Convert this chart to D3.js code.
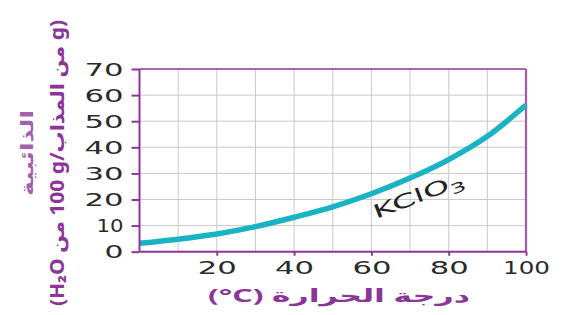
<!DOCTYPE html>
<html>
<head>
<meta charset="utf-8">
<script src="https://cdn.jsdelivr.net/npm/d3@7"></script>
<style>
  body { margin:0; background:#fff; }
</style>
</head>
<body>
  <div id="chart"></div>
  <script>
    // temperature (°C) and KClO3 solubility (g / 100 g H2O)
    var temps = [0, 10, 20, 30, 40, 50, 60, 70, 80, 90, 100];
    var solubility = [3.2, 4.8, 6.8, 9.6, 13.2, 17.2, 22.2, 28.2, 35.3, 44.2, 56.2];
    var xTicks = [20, 40, 60, 80, 100];
    var yTicks = [0, 10, 20, 30, 40, 50, 60, 70];
    var xLabel = "درجة الحرارة (\u200E°C)";
    var yTitle = "الذائبية";
    var yUnit = "(g من المذاب/g\u200F 100 من H₂O)";
    var seriesName = "KClO";

    var W = 566, H = 315;
    var margin = {top:69, right:40, bottom:64, left:139.5};
    var purple = "#8c3598", cyan = "#19b4c3";

    var svg = d3.select("#chart").append("svg")
      .attr("width", W).attr("height", H);

    var x = d3.scaleLinear().domain([0, 100]).range([margin.left, 526]);
    var y = d3.scaleLinear().domain([0, 70]).range([H - margin.bottom + 0.7, margin.top]);

    // digit widths of the wide typeface in the picture
    function lenOf(s) { return d3.sum(s.split(""), function(c){ return c == "1" ? 8 : 20; }) - 1; }

    // grid
    var g = svg.append("g");
    g.selectAll(".vg").data(d3.range(10, 100, 10)).enter().append("line")
      .attr("x1", d => x(d)).attr("x2", d => x(d))
      .attr("y1", y(0)).attr("y2", y(70))
      .attr("stroke", "#c9c9c9").attr("stroke-width", 1);
    g.selectAll(".hg").data(d3.range(10, 70, 10)).enter().append("line")
      .attr("x1", x(0)).attr("x2", x(100))
      .attr("y1", d => y(d)).attr("y2", d => y(d))
      .attr("stroke", "#c9c9c9").attr("stroke-width", 1);

    // frame
    svg.append("line").attr("x1", x(0)).attr("x2", x(100)).attr("y1", y(70)).attr("y2", y(70))
      .attr("stroke", purple).attr("stroke-width", 1.6);
    svg.append("line").attr("x1", x(100)).attr("x2", x(100)).attr("y1", y(70)).attr("y2", y(0))
      .attr("stroke", "#a35aad").attr("stroke-width", 2.2);

    // curve
    var line = d3.line().x((d, i) => x(temps[i])).y(d => y(d)).curve(d3.curveMonotoneX);
    svg.append("path").datum(solubility)
      .attr("d", line)
      .attr("fill", "none").attr("stroke", cyan).attr("stroke-width", 5.5)
      .attr("stroke-linecap", "butt");

    // axes
    var yAxis = svg.append("g").attr("transform", "translate(" + x(0) + ",0)")
      .call(d3.axisLeft(y).tickValues(yTicks).tickSize(8).tickPadding(8));
    var xAxis = svg.append("g").attr("transform", "translate(0," + y(0) + ")")
      .call(d3.axisBottom(x).tickValues(xTicks).tickSize(4).tickPadding(6));
    [xAxis, yAxis].forEach(function(a){
      a.select(".domain").attr("stroke", purple).attr("stroke-width", 2);
      a.selectAll(".tick line").attr("stroke", purple).attr("stroke-width", 2);
      a.selectAll(".tick text")
        .attr("fill", "#2a2a2a")
        .style("font-family", "'DejaVu Sans', sans-serif")
        .style("font-size", "17px")
        .attr("textLength", function(d){ return lenOf(String(d)); })
        .attr("lengthAdjust", "spacingAndGlyphs");
    });
    yAxis.select(".domain").attr("d", "M0," + y(0) + "V" + y(70));
    xAxis.select(".domain").attr("d", "M" + x(0) + ",0H" + x(100));
    yAxis.selectAll(".tick text").attr("x", -16).attr("dy", "0.36em");
    xAxis.selectAll(".tick text").attr("y", 10).attr("dy", "0.72em");

    // series label
    var sl = svg.append("text")
      .attr("transform", "translate(376,219) rotate(-21)")
      .attr("fill", "#222")
      .style("font-family", "'DejaVu Sans', sans-serif")
      .style("font-size", "19px")
      .attr("textLength", 96).attr("lengthAdjust", "spacingAndGlyphs")
      .text(seriesName);
    sl.append("tspan").attr("dy", 5).style("font-size", "14px").text("3");

    // x axis title
    svg.append("text")
      .attr("x", 339).attr("y", 302)
      .attr("text-anchor", "middle")
      .attr("direction", "rtl")
      .attr("fill", purple)
      .style("font-family", "'Noto Sans', 'DejaVu Sans', sans-serif")
      .style("font-size", "18px").style("font-weight", "bold")
      .attr("textLength", 262).attr("lengthAdjust", "spacingAndGlyphs")
      .text(xLabel);

    // y axis titles
    svg.append("text")
      .attr("transform", "translate(33,153) rotate(-90)")
      .attr("text-anchor", "middle")
      .attr("direction", "rtl")
      .attr("fill", "#a45fae")
      .style("font-family", "'Noto Sans', 'DejaVu Sans', sans-serif")
      .style("font-size", "17px").style("font-weight", "bold")
      .attr("textLength", 86).attr("lengthAdjust", "spacingAndGlyphs")
      .text(yTitle);

    svg.append("text")
      .attr("transform", "translate(64,163) rotate(-90)")
      .attr("text-anchor", "middle")
      .attr("direction", "rtl")
      .attr("fill", purple)
      .style("font-family", "'Noto Sans', 'DejaVu Sans', sans-serif")
      .style("font-size", "19px").style("font-weight", "bold")
      .attr("textLength", 286).attr("lengthAdjust", "spacingAndGlyphs")
      .text(yUnit);
  </script>
</body>
</html>
